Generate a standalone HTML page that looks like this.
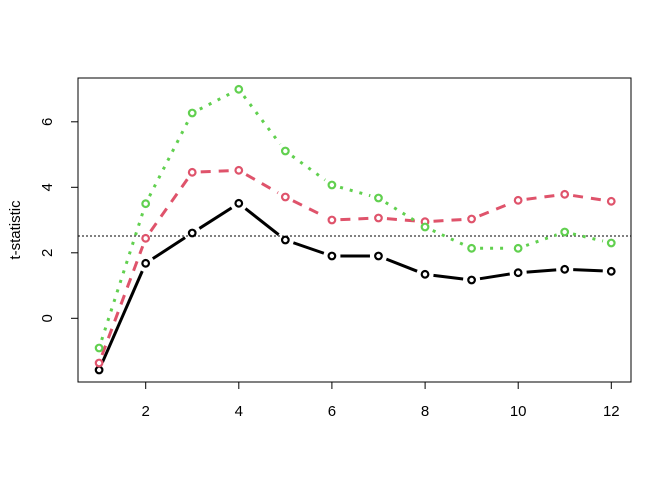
<!DOCTYPE html>
<html><head><style>body{margin:0;background:#fff}svg{display:block}text{font-family:"Liberation Sans",sans-serif;font-size:15px;fill:#000}</style></head>
<body>
<svg id="s" width="672" height="480" xmlns="http://www.w3.org/2000/svg">
<rect x="78" y="78" width="553" height="304" fill="none" stroke="#000" stroke-width="1"/>
<line x1="78" y1="236" x2="631" y2="236" stroke="#000" stroke-dasharray="2,2"/>
<g stroke="#000">
<line x1="145.7" y1="382" x2="145.7" y2="389"/><line x1="238.8" y1="382" x2="238.8" y2="389"/><line x1="331.9" y1="382" x2="331.9" y2="389"/><line x1="425.1" y1="382" x2="425.1" y2="389"/><line x1="518.2" y1="382" x2="518.2" y2="389"/><line x1="611.3" y1="382" x2="611.3" y2="389"/>
<line x1="78" y1="318.3" x2="71" y2="318.3"/><line x1="78" y1="252.8" x2="71" y2="252.8"/><line x1="78" y1="187.3" x2="71" y2="187.3"/><line x1="78" y1="121.8" x2="71" y2="121.8"/>
</g>
<g text-anchor="middle">
<text x="145.7" y="416">2</text><text x="238.8" y="416">4</text><text x="331.9" y="416">6</text><text x="425.1" y="416">8</text><text x="518.2" y="416">10</text><text x="611.3" y="416">12</text>
<text transform="translate(52,318.3) rotate(-90)">0</text>
<text transform="translate(52,252.8) rotate(-90)">2</text>
<text transform="translate(52,187.3) rotate(-90)">4</text>
<text transform="translate(52,121.8) rotate(-90)">6</text>
<text transform="translate(20,230) rotate(-90)">t-statistic</text>
</g>
<g id="d"></g>
</svg>
<script>
var X=function(i){return 99.1+(i)*46.56;};
var S=[
 {c:"#000",d:"",y:[370,263.3,233,203.3,240,256,256,274.3,280,272.7,269.3,271.3]},
 {c:"#DF536B",d:"10,8",y:[363,238.3,172.3,170.3,197,220,218,221.7,219,200.3,194.3,201.3]},
 {c:"#61D04F",d:"3,7",y:[348,203.7,113,89.3,151,185,198,227,248.3,248.3,232,243]}];
var h="";
S.forEach(function(s){
 for(var i=0;i<11;i++){var x1=X(i),y1=s.y[i],x2=X(i+1),y2=s.y[i+1],dx=x2-x1,dy=y2-y1,L=Math.sqrt(dx*dx+dy*dy),g=8.5;
  h+='<line x1="'+(x1+dx*g/L)+'" y1="'+(y1+dy*g/L)+'" x2="'+(x2-dx*g/L)+'" y2="'+(y2-dy*g/L)+'" stroke="'+s.c+'" stroke-width="3" stroke-dasharray="'+s.d+'"/>';}
 for(var i=0;i<12;i++){h+='<circle cx="'+X(i)+'" cy="'+s.y[i]+'" r="3.3" fill="#fff" stroke="'+s.c+'" stroke-width="2.2"/>';}
});
document.getElementById("d").innerHTML=h;
</script>
</body></html>
